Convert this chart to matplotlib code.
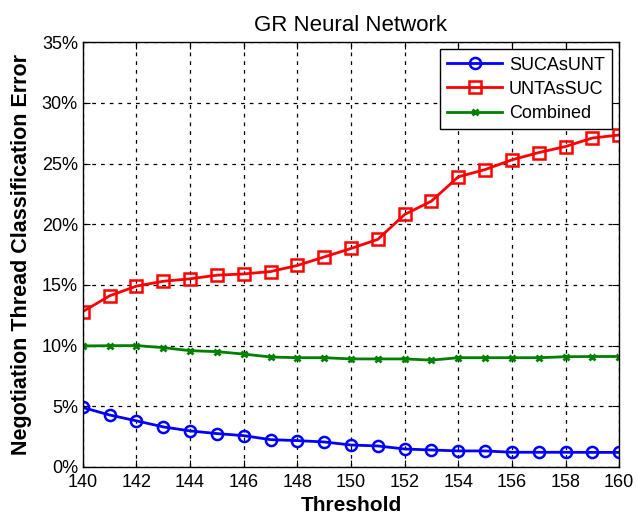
import matplotlib
matplotlib.use("Agg")
import matplotlib.pyplot as plt
from matplotlib.ticker import FuncFormatter

plt.rcParams['font.family'] = ['Liberation Sans', 'DejaVu Sans']

thresholds = list(range(140, 161))
suc_as_unt = [4.9, 4.28, 3.8, 3.3, 2.97, 2.75, 2.58, 2.25, 2.17, 2.06, 1.81,
              1.73, 1.48, 1.4, 1.32, 1.32, 1.21, 1.21, 1.21, 1.2, 1.2]
unt_as_suc = [12.8, 14.1, 14.9, 15.3, 15.5, 15.8, 15.9, 16.1, 16.6, 17.3, 18.0,
              18.75, 20.8, 21.9, 23.9, 24.5, 25.3, 25.9, 26.4, 27.1, 27.35]
combined = [9.97, 9.99, 10.0, 9.83, 9.58, 9.5, 9.3, 9.06, 9.0, 9.0, 8.9,
            8.9, 8.9, 8.8, 9.0, 9.0, 9.0, 9.0, 9.08, 9.1, 9.1]

xticks = list(range(140, 161, 2))
yticks = list(range(0, 36, 5))

fig = plt.figure(figsize=(6.37, 5.2), dpi=100)
ax = fig.add_axes([0.130, 0.102, 0.842, 0.817])

ax.plot(thresholds, suc_as_unt, color='#0000ff', lw=2, marker='o', ms=8,
        mfc='none', mec='#0000ff', mew=1.8, label='SUCAsUNT')
ax.plot(thresholds, unt_as_suc, color='#ff0000', lw=2, marker='s', ms=9,
        mfc='none', mec='#ff0000', mew=1.8, label='UNTAsSUC')
ax.plot(thresholds, combined, color='#008000', lw=2, marker='x', ms=4,
        mew=2, label='Combined')

ax.set_xlim(140, 160)
ax.set_ylim(0, 35)
ax.set_xticks(xticks)
ax.set_yticks(yticks)
ax.yaxis.set_major_formatter(FuncFormatter(lambda v, p: f"{int(v)}%"))
ax.tick_params(direction='in', labelsize=13, length=5, top=True, right=True)
ax.tick_params(axis='x', pad=5)
ax.grid(True, color='black', linestyle=(0, (3, 4)), linewidth=0.9)
for s in ax.spines.values():
    s.set_linewidth(1.0)

ax.set_title('GR Neural Network', fontsize=16, pad=8)
ax.set_xlabel('Threshold', fontsize=15, fontweight='bold', labelpad=4)
ax.set_ylabel('Negotiation Thread Classification Error', fontsize=15.5,
              fontweight='bold', labelpad=7)

leg = ax.legend(loc='upper right', fontsize=13, fancybox=False, framealpha=1,
                edgecolor='black', borderpad=0.4, handlelength=3.0,
                labelspacing=0.4, borderaxespad=0.4, handletextpad=0.4)
leg.get_frame().set_linewidth(1.0)

fig.savefig('out.png', dpi=100)
